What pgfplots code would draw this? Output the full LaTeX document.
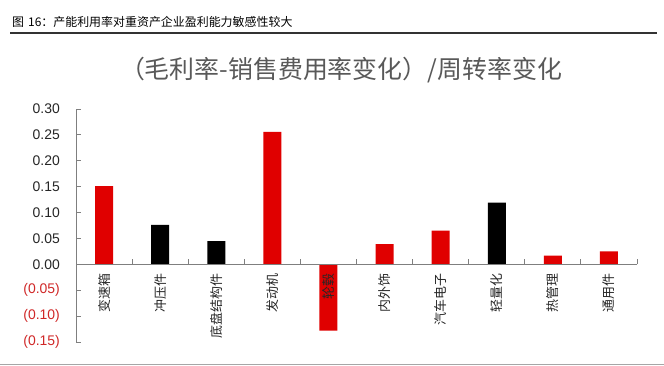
\documentclass[border=0pt]{standalone}
\usepackage{fontspec}
\setmainfont{Liberation Sans}
\newfontfamily\cjk{Noto Sans CJK SC}
\usepackage{pgfplots}
\pgfplotsset{compat=1.18}
\definecolor{barred}{HTML}{E00000}
\definecolor{negred}{HTML}{D02828}
\definecolor{axgray}{HTML}{7F7F7F}
\definecolor{titlegray}{HTML}{595959}
\definecolor{numgray}{HTML}{262626}
\begin{document}
\begin{tikzpicture}
\path[use as bounding box, fill=white] (0,0) rectangle (664bp,366bp);
\node[anchor=west, inner sep=0pt, font=\cjk\fontsize{12}{14}\selectfont] at (12bp,344bp) {图\,\,16：产能利用率对重资产企业盈利能力敏感性较大};
\draw[line width=1.2bp, black!80] (10bp,333bp) -- (657bp,333bp);
\node[font=\cjk\fontsize{25}{28}\selectfont, text=titlegray] at (341bp,296bp) {（毛利率-销售费用率变化）/周转率变化};
\draw[line width=1bp, black!35] (0bp,1.5bp) -- (664bp,1.5bp);
\begin{axis}[
  at={(76bp,24bp)}, anchor=south west, scale only axis,
  width=561bp, height=233bp,
  xmin=-0.5, xmax=9.5, ymin=-0.15, ymax=0.30,
  axis y line*=left, axis x line*=middle,
  axis line style={axgray, line width=0.9bp},
  axis on top,
  xtick align=inside, ytick align=inside,
  major tick length=0pt, minor tick length=5bp,
  minor tick style={draw=axgray, line width=0.9bp},
  xtick={0,1,2,3,4,5,6,7,8,9},
  xticklabels={变速箱,冲压件,底盘结构件,发动机,轮毂,内外饰,汽车电子,轻量化,热管理,通用件},
  minor xtick={0.5,1.5,2.5,3.5,4.5,5.5,6.5,7.5,8.5,9.5},
  xticklabel style={font=\cjk\fontsize{13}{15}\selectfont, text=black!85, yshift=-9bp, rotate=90, anchor=east, inner sep=0pt},
  ytick={-0.15,-0.1,-0.05,0,0.05,0.1,0.15,0.2,0.25,0.3},
  minor ytick={-0.15,-0.1,-0.05,0,0.05,0.1,0.15,0.2,0.25,0.3},
  yticklabels={\textcolor{negred}{(0.15)},\textcolor{negred}{(0.10)},\textcolor{negred}{(0.05)},0.00,0.05,0.10,0.15,0.20,0.25,0.30},
  yticklabel style={font=\fontsize{14}{16}\selectfont, text=numgray, anchor=east, inner sep=0pt, xshift=-16bp},
]
\addplot[ybar, bar width=18bp, bar shift=0pt, fill=barred, draw=none] coordinates {(0,0.151) (3,0.256) (4,-0.128) (5,0.039) (6,0.065) (8,0.017) (9,0.025)};
\addplot[ybar, bar width=18bp, bar shift=0pt, fill=black, draw=none] coordinates {(1,0.076) (2,0.045) (7,0.119)};
\end{axis}
\end{tikzpicture}
\end{document}
